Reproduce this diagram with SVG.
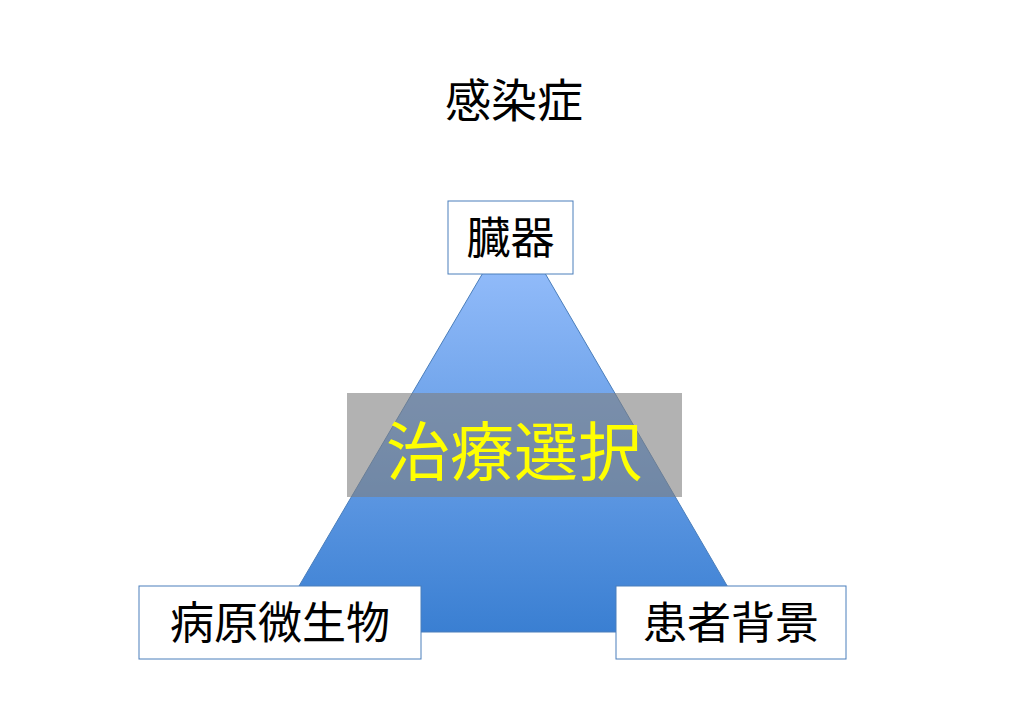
<svg xmlns="http://www.w3.org/2000/svg" width="1030" height="723" viewBox="0 0 1030 723">
<style>
text{font-family:"Liberation Sans","Noto Sans CJK JP",sans-serif;text-anchor:middle}
.lbl{font-size:44px;fill:#000}
.box{fill:#fff;stroke:#4a7ebb;stroke-width:1}
</style>
<defs><linearGradient id="g" x1="0" y1="0" x2="0" y2="1"><stop offset="0" stop-color="#9dc3ff"/><stop offset="1" stop-color="#3a7fd2"/></linearGradient></defs>
<rect width="1030" height="723" fill="#fff"/>
<text x="514" y="117" font-size="46">感染症</text>
<g id="pyramid"><polygon points="514,220 272,632 754,632" fill="url(#g)" stroke="#4a7ebb" stroke-width="1"/></g>
<g id="center"><rect x="347" y="393" width="335" height="104" fill="#7f7f7f" fill-opacity="0.6"/>
<text x="514" y="475" font-size="64" fill="#ffff00">治療選択</text></g>
<g id="organ"><rect class="box" x="448" y="201" width="125" height="73"/><text class="lbl" x="510.5" y="254">臓器</text></g>
<g id="pathogen"><rect class="box" x="139" y="586" width="282" height="73"/><text class="lbl" x="280" y="639">病原微生物</text></g>
<g id="patient"><rect class="box" x="616" y="586" width="230" height="73"/><text class="lbl" x="731" y="639">患者背景</text></g>
<g id="connectors"/>
</svg>
